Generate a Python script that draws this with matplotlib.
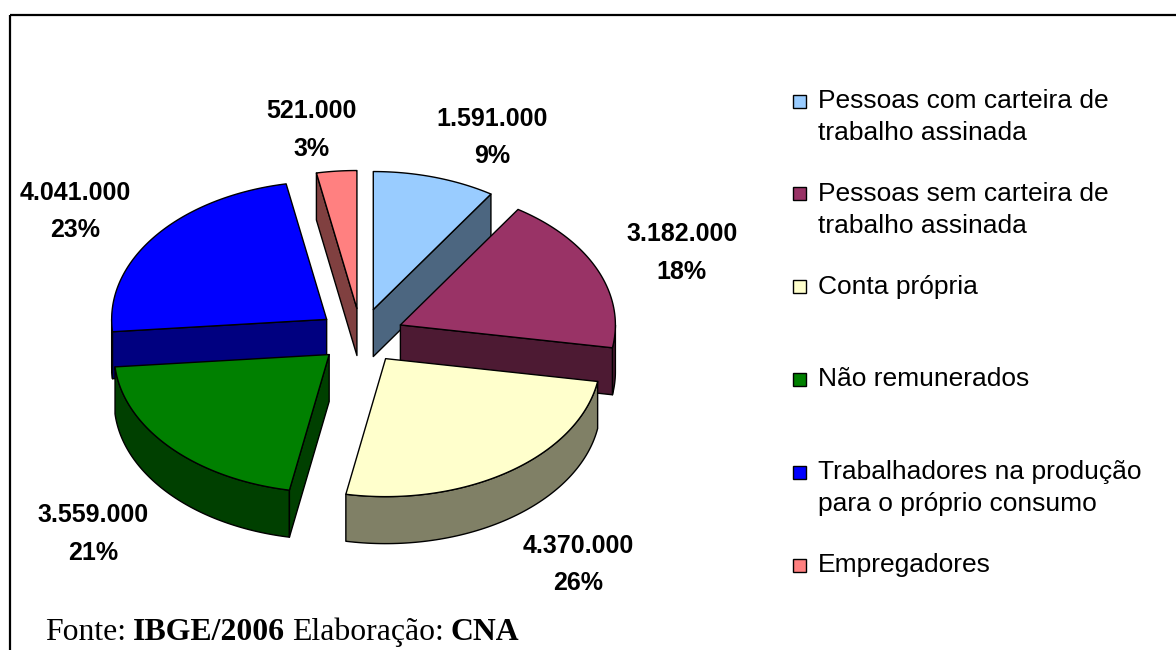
import numpy as np
import matplotlib.pyplot as plt
from matplotlib.patches import Polygon, Rectangle

# dados (IBGE/2006)
categorias = [
    "Pessoas com carteira de\ntrabalho assinada",
    "Pessoas sem carteira de\ntrabalho assinada",
    "Conta própria",
    "Não remunerados",
    "Trabalhadores na produção\npara o próprio consumo",
    "Empregadores",
]
valores = [1591000, 3182000, 4370000, 3559000, 4041000, 521000]
percentuais = [9, 18, 26, 21, 23, 3]

cores_topo = ['#99CCFF', '#993366', '#FFFFCC', '#008000', '#0000FF', '#FF8080']
cores_lado = ['#4C6680', '#4D1A33', '#808066', '#004000', '#000080', '#804040']

# geometria da pizza 3D (em pixels)
CX, CY = 361, 336
RX, RY = 215, 138
PROF = 47
EXPL = 0.2

fig = plt.figure(figsize=(11.76, 6.5), dpi=100)
ax = fig.add_axes([0, 0, 1, 1])
ax.set_xlim(0, 1176)
ax.set_ylim(650, 0)
ax.axis('off')

fracs = np.array(valores) / sum(valores)
fim = 90 - np.cumsum(fracs) * 360
ini = fim + fracs * 360
meio = (ini + fim) / 2


def arco(t0, t1, ox, oy, dz=0, n=80):
    t = np.radians(np.linspace(t0, t1, n))
    return np.column_stack([ox + RX * np.cos(t), oy - RY * np.sin(t) + dz])


def fatia(i):
    m = np.radians(meio[i])
    ox = CX + EXPL * RX * np.cos(m)
    oy = CY - EXPL * RY * np.sin(m)
    a0, a1 = ini[i], fim[i]
    kw = dict(edgecolor='black', linewidth=1.0, joinstyle='round')

    # parede externa (somente a parte da frente)
    for k in range(-2, 2):
        lo = max(a1, -180 + 360 * k)
        hi = min(a0, 360 * k)
        if hi > lo:
            topo = arco(lo, hi, ox, oy)
            base = arco(hi, lo, ox, oy, PROF)
            ax.add_patch(Polygon(np.vstack([topo, base]), closed=True,
                                 facecolor=cores_lado[i], **kw))

    # faces de corte
    for a, visivel in ((a0, np.cos(np.radians(a0)) < 0), (a1, np.cos(np.radians(a1)) > 0)):
        if visivel:
            r = np.radians(a)
            px, py = ox + RX * np.cos(r), oy - RY * np.sin(r)
            pts = [(ox, oy), (px, py), (px, py + PROF), (ox, oy + PROF)]
            ax.add_patch(Polygon(pts, closed=True, facecolor=cores_lado[i], **kw))

    # topo
    topo = np.vstack([[(ox, oy)], arco(a0, a1, ox, oy)])
    ax.add_patch(Polygon(topo, closed=True, facecolor=cores_topo[i], **kw))


for i in sorted(range(len(valores)), key=lambda j: -np.sin(np.radians(meio[j]))):
    fatia(i)

# rótulos
for i, v in enumerate(valores):
    m = np.radians(meio[i])
    c, s = np.cos(m), np.sin(m)
    lx = CX + 1.4 * RX * c + 45 * np.clip(c / 0.2, -1, 1)
    ly = CY - 1.5 * RY * s + (PROF + 12 if s < 0 else 0)
    txt = f"{v:,}".replace(",", ".") + f"\n{percentuais[i]}%"
    ax.text(lx, ly, txt, ha='center', va='center', fontsize=18, fontweight='bold',
            family='Liberation Sans', linespacing=1.7)

# legenda
for i, nome in enumerate(categorias):
    y = 101 + i * 92.8
    ax.add_patch(Rectangle((793, y - 6.5), 13, 13, facecolor=cores_topo[i],
                           edgecolor='black', linewidth=1.0))
    for j, linha in enumerate(nome.split("\n")):
        ax.text(818, y + j * 32, linha, ha='left', va='center', fontsize=19,
                family='Liberation Sans')

# moldura
ax.add_patch(Rectangle((10, 14.5), 1200, 700, facecolor='none', edgecolor='black',
                       linewidth=1.6))

# fonte
fig.canvas.draw()
rend = fig.canvas.get_renderer()
partes = [("Fonte:", 'normal'), ("IBGE/2006", 'bold'), ("Elaboração:", 'normal'), ("CNA", 'bold')]
t1 = ax.text(0, -100, "a a", fontsize=22.9, family='Liberation Serif')
t2 = ax.text(0, -100, "aa", fontsize=22.9, family='Liberation Serif')
espaco = t1.get_window_extent(rend).width - t2.get_window_extent(rend).width
t1.remove()
t2.remove()
x = 45
for s, w in partes:
    t = ax.text(x, 632, s, ha='left', va='center', fontsize=22.9, fontweight=w,
                family='Liberation Serif')
    x += t.get_window_extent(rend).width + espaco * 0.85

fig.savefig('out.png', dpi=100)
